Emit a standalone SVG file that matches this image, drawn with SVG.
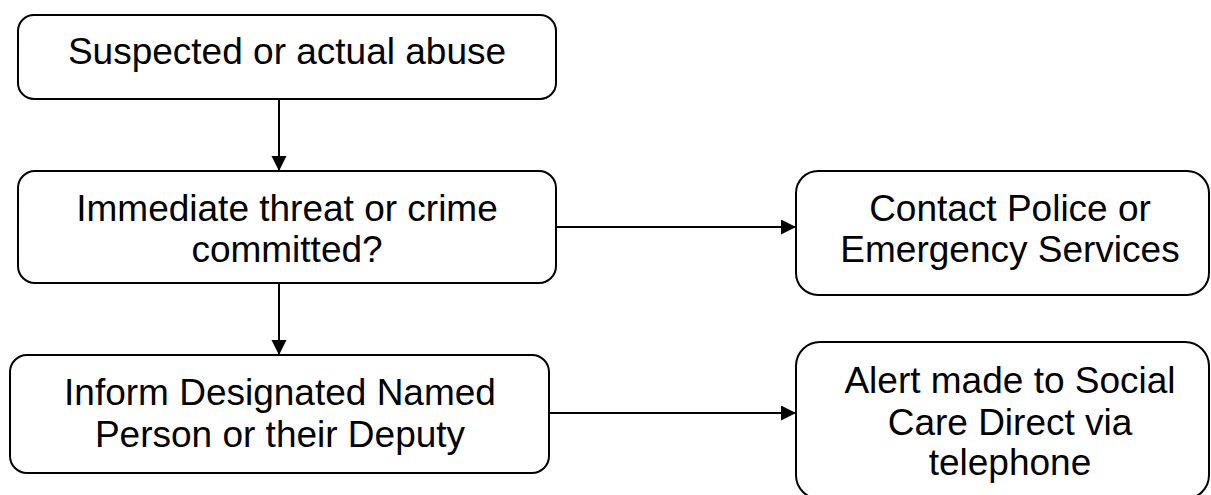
<svg xmlns="http://www.w3.org/2000/svg" width="1211" height="495" viewBox="0 0 1211 495">
<style>
.box{fill:#ffffff;stroke:#000000;stroke-width:2}
.lbl{font-family:"Liberation Sans",Arial,sans-serif;font-size:37px;fill:#000000;text-anchor:middle}
.con{stroke:#000000;stroke-width:2;fill:none}
</style>
<defs>
<marker id="arr" markerUnits="userSpaceOnUse" markerWidth="16" markerHeight="16" refX="15" refY="7.5" orient="auto">
<path d="M0,0 L15,7.5 L0,15 z" fill="#000000"/>
</marker>
</defs>
<rect width="1211" height="495" fill="#ffffff"/>
<g id="connectors">
<line class="con" x1="279" y1="99" x2="279" y2="171" marker-end="url(#arr)"/>
<line class="con" x1="279" y1="283" x2="279" y2="355" marker-end="url(#arr)"/>
<line class="con" x1="556" y1="227" x2="796" y2="227" marker-end="url(#arr)"/>
<line class="con" x1="549" y1="413" x2="796" y2="413" marker-end="url(#arr)"/>
</g>
<g id="n1">
<rect class="box" x="18" y="15" width="538" height="84" rx="16"/>
<text class="lbl" x="287" y="64">Suspected or actual abuse</text>
</g>
<g id="n2">
<rect class="box" x="18" y="171" width="538" height="112" rx="17"/>
<text class="lbl" x="287" y="221">Immediate threat or crime</text>
<text class="lbl" x="287" y="262">committed?</text>
</g>
<g id="n3">
<rect class="box" x="10" y="355" width="539" height="118" rx="17"/>
<text class="lbl" x="280" y="405">Inform Designated Named</text>
<text class="lbl" x="280" y="447">Person or their Deputy</text>
</g>
<g id="n4">
<rect class="box" x="796" y="171" width="413" height="124" rx="22"/>
<text class="lbl" x="1010" y="221">Contact Police or</text>
<text class="lbl" x="1010" y="262">Emergency Services</text>
</g>
<g id="n5">
<rect class="box" x="796" y="342" width="413" height="157" rx="24"/>
<text class="lbl" x="1010" y="393">Alert made to Social</text>
<text class="lbl" x="1010" y="435">Care Direct via</text>
<text class="lbl" x="1010" y="475">telephone</text>
</g>
</svg>
